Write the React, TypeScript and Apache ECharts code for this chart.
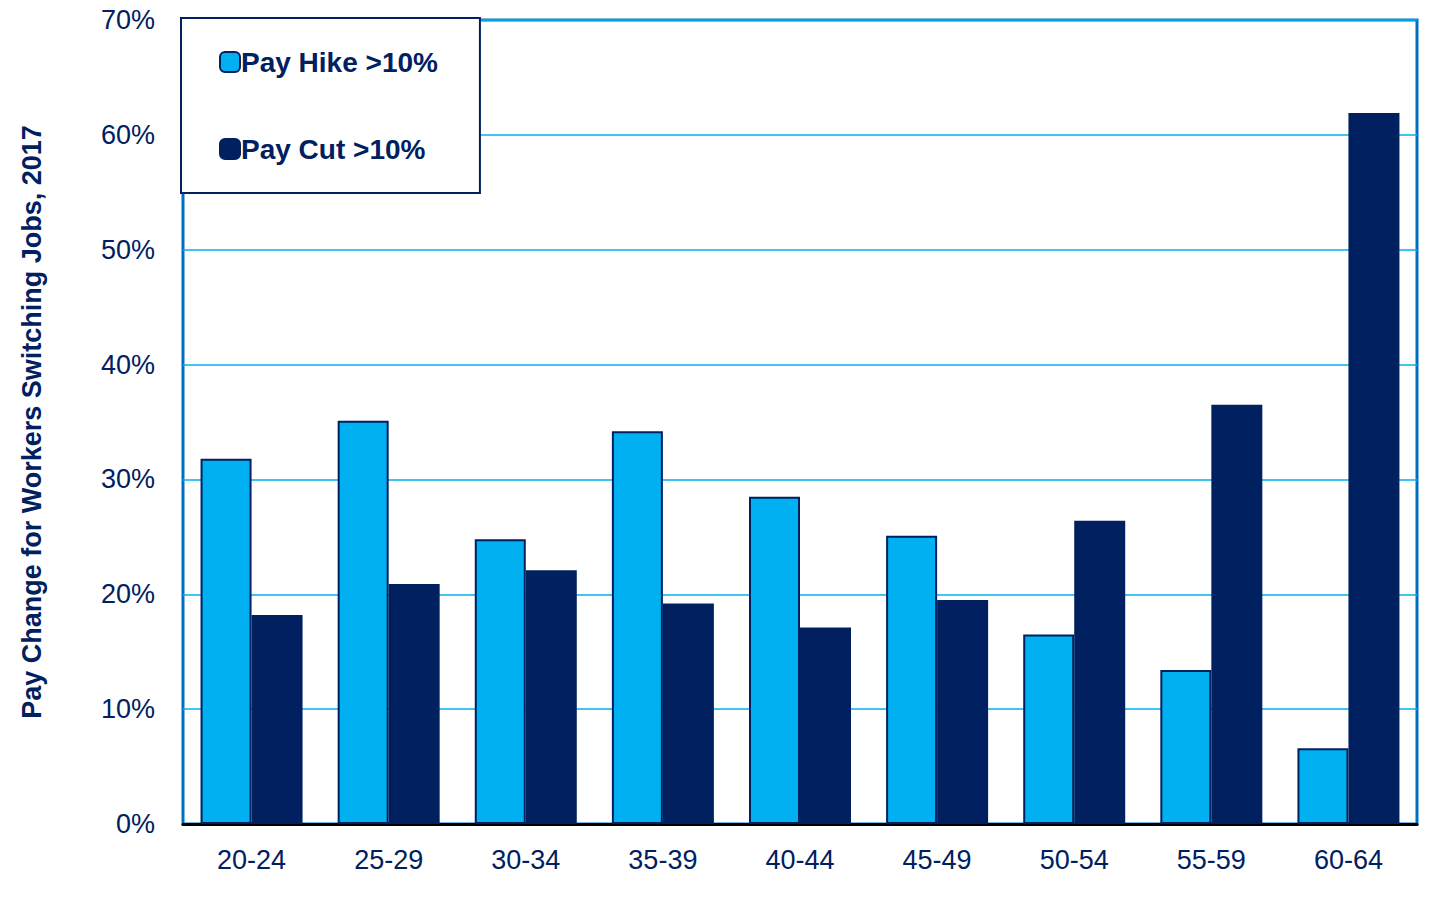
import React, { useEffect, useRef } from "react";
import * as echarts from "echarts";

const categories = ["20-24", "25-29", "30-34", "35-39", "40-44", "45-49", "50-54", "55-59", "60-64"];
const payHike = [31.8, 35.1, 24.8, 34.2, 28.5, 25.1, 16.5, 13.4, 6.6];
const payCut = [18.2, 20.9, 22.1, 19.2, 17.1, 19.5, 26.4, 36.5, 61.9];

export default function App() {
  const ref = useRef<HTMLDivElement>(null);
  useEffect(() => {
    const chart = echarts.init(ref.current!, null, { renderer: "svg" });
    const font = "'Liberation Sans', Arial, sans-serif";
    chart.setOption({
      animation: false,
      textStyle: { fontFamily: font },
      grid: { left: 183, right: 39, top: 20, bottom: 100, show: true, borderColor: "#0070C0", borderWidth: 3 },
      legend: {
        orient: "vertical", left: 181, top: 18, width: 334,
        padding: [30, 42, 30, 38], itemGap: 59, itemWidth: 20, itemHeight: 20,
        backgroundColor: "#fff", borderColor: "#002060", borderWidth: 2,
        textStyle: { fontSize: 28, fontWeight: "bold", color: "#002060", fontFamily: font, padding: [0, 0, 0, -4] },
        data: ["Pay Hike >10%", "Pay Cut >10%"],
      },
      xAxis: {
        type: "category", data: categories,
        axisLine: { lineStyle: { color: "#000", width: 3 } },
        axisTick: { length: 8, lineStyle: { color: "#000", width: 3 } },
        axisLabel: { fontSize: 27, color: "#002060", margin: 22, fontFamily: font },
      },
      yAxis: {
        type: "value", min: 0, max: 70, interval: 10,
        name: "Pay Change for Workers Switching Jobs, 2017", nameLocation: "middle", nameGap: 138,
        nameTextStyle: { fontSize: 27, fontWeight: "bold", color: "#002060", fontFamily: font },
        axisLine: { show: false },
        axisLabel: { formatter: "{value}%", fontSize: 27, color: "#002060", margin: 28, fontFamily: font },
        splitLine: { lineStyle: { color: "#00B0F0", width: 1.5 } },
      },
      series: [
        { name: "Pay Hike >10%", type: "bar", data: payHike, barWidth: 51, barGap: "0%",
          itemStyle: { color: "#00B0F0", borderColor: "#002060", borderWidth: 2 } },
        { name: "Pay Cut >10%", type: "bar", data: payCut, barWidth: 51,
          itemStyle: { color: "#002060", borderColor: "#002060", borderWidth: 2 } },
      ],
    });
    return () => chart.dispose();
  }, []);
  return <div ref={ref} style={{ position: "fixed", left: 0, top: 0, width: 1456, height: 924, background: "#fff" }} />;
}
